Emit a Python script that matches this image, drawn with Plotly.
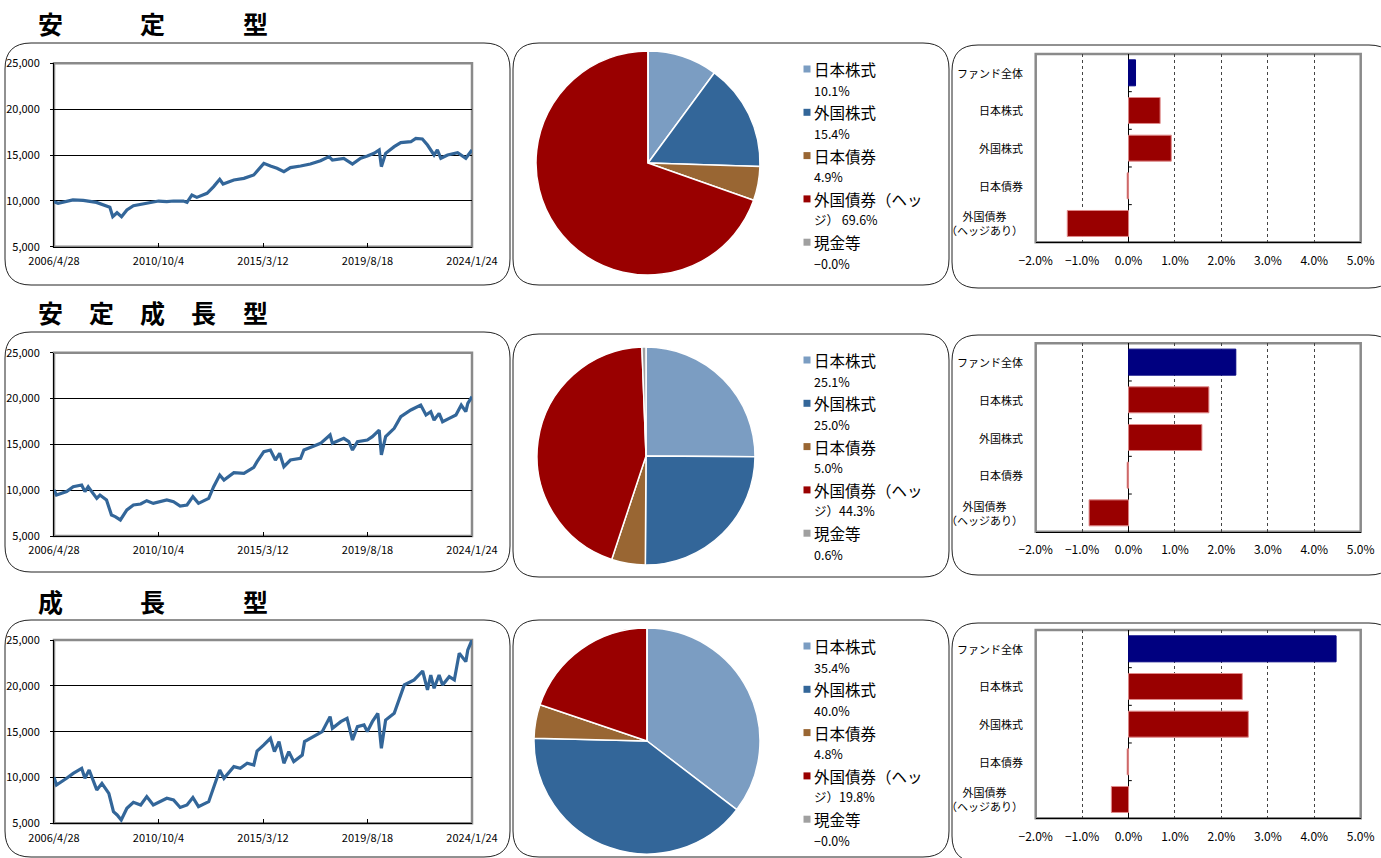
import plotly.graph_objects as go

W, H = 1381, 858
FONT = "Noto Sans CJK JP, Noto Sans, sans-serif"


def X(p):
    return p / W


def Y(p):
    return 1 - p / H


def sfx(n):
    return "" if n == 1 else str(n)


# ---------------- data ----------------
row_titles = [["安", "", "定", "", "型"], ["安", "定", "成", "長", "型"], ["成", "", "長", "", "型"]]

tick_dates = ["2006-04-28", "2010-10-04", "2015-03-12", "2019-08-18", "2024-01-24"]
tick_date_labels = ["2006/4/28", "2010/10/4", "2015/3/12", "2019/8/18", "2024/1/24"]
nav_ticks = [5000, 10000, 15000, 20000, 25000]
nav_tick_labels = ["5,000", "10,000", "15,000", "20,000", "25,000"]

dates_stable = ["2006-04-28", "2006-07-01", "2007-02-15", "2007-07-25", "2008-02-15", "2008-04-15",
                "2008-07-20", "2008-09-10", "2008-10-25", "2008-12-30", "2009-03-10", "2009-06-01",
                "2009-09-10", "2010-02-15", "2010-06-01", "2010-10-05", "2011-02-10", "2011-05-25",
                "2011-10-25", "2011-12-20", "2012-03-05", "2012-05-20", "2012-10-25", "2013-02-05",
                "2013-05-10", "2013-07-01", "2013-12-15", "2014-05-20", "2014-10-20", "2015-03-25",
                "2015-07-05", "2015-10-15", "2016-01-30", "2016-05-10", "2016-10-15", "2017-03-15",
                "2017-08-20", "2017-12-30", "2018-02-20", "2018-08-15", "2018-12-28", "2019-05-05",
                "2019-08-15", "2019-11-28", "2020-02-15", "2020-03-20", "2020-05-25", "2020-10-05",
                "2021-01-15", "2021-06-20", "2021-09-05", "2021-12-15", "2022-03-05", "2022-06-15",
                "2022-08-05", "2022-09-28", "2023-01-10", "2023-06-15", "2023-10-20", "2024-01-24"]
nav_stable = [9910, 9730, 10100, 10050, 9830, 9700,
              9470, 9300, 8270, 8700, 8270, 9000,
              9470, 9650, 9830, 9980, 9910, 9980,
              9980, 9830, 10640, 10380, 10820, 11550,
              12350, 11840, 12270, 12450, 12820, 14090,
              13800, 13550, 13180, 13620, 13800, 14020,
              14380, 14820, 14450, 14640, 14020, 14640,
              14890, 15180, 15550, 13730, 15180, 15910,
              16350, 16450, 16820, 16750, 16090, 15000,
              15550, 14640, 15000, 15250, 14640, 15550]

dates_balanced = ["2006-04-28", "2006-06-05", "2006-11-10", "2007-02-20", "2007-07-01", "2007-08-20",
                  "2007-10-10", "2008-02-20", "2008-04-10", "2008-07-20", "2008-10-05", "2008-12-01",
                  "2009-02-20", "2009-06-01", "2009-09-10", "2010-01-01", "2010-04-05", "2010-07-15",
                  "2011-02-10", "2011-05-25", "2011-09-05", "2011-12-20", "2012-03-20", "2012-06-15",
                  "2012-11-20", "2013-02-05", "2013-05-10", "2013-07-15", "2013-12-15", "2014-05-20",
                  "2014-10-20", "2014-12-10", "2015-03-25", "2015-07-05", "2015-09-20", "2015-11-25",
                  "2016-01-30", "2016-05-10", "2016-10-15", "2016-12-05", "2017-05-10", "2017-08-20",
                  "2018-01-15", "2018-02-20", "2018-08-15", "2018-11-01", "2018-12-28", "2019-03-15",
                  "2019-08-15", "2019-11-01", "2020-02-15", "2020-03-20", "2020-05-25", "2020-10-05",
                  "2021-01-15", "2021-06-20", "2021-11-20", "2022-02-10", "2022-04-25", "2022-06-15",
                  "2022-09-01", "2022-10-25", "2023-02-05", "2023-05-20", "2023-08-10", "2023-10-20",
                  "2023-11-20", "2024-01-24"]
nav_balanced = [10020, 9470, 9840, 10380, 10560, 9840,
                10380, 9110, 9470, 8930, 7290, 7110,
                6750, 7840, 8380, 8490, 8850, 8560,
                8930, 8750, 8270, 8380, 9290, 8560,
                9110, 10380, 11650, 11110, 11910, 11840,
                12490, 13110, 14200, 14380, 13290, 14020,
                12560, 13290, 13470, 14380, 14820, 15110,
                16020, 15110, 15650, 15290, 14380, 15290,
                15470, 15840, 16560, 13840, 15840, 16750,
                18020, 18750, 19290, 18200, 18560, 17650,
                18380, 17470, 17840, 18200, 19290, 18560,
                19470, 20200]

dates_growth = ["2006-04-28", "2006-06-05", "2006-11-10", "2007-02-20", "2007-07-01", "2007-08-20",
                "2007-10-25", "2008-02-20", "2008-05-10", "2008-08-25", "2008-11-05", "2009-01-01",
                "2009-03-05", "2009-06-01", "2009-09-10", "2010-01-01", "2010-04-05", "2010-07-15",
                "2011-02-10", "2011-05-25", "2011-09-05", "2011-12-20", "2012-03-20", "2012-06-15",
                "2012-11-20", "2013-02-05", "2013-05-10", "2013-07-15", "2013-12-15", "2014-03-25",
                "2014-07-10", "2014-10-20", "2014-12-10", "2015-03-25", "2015-07-05", "2015-09-05",
                "2015-11-15", "2016-01-30", "2016-04-15", "2016-07-01", "2016-11-10", "2016-12-15",
                "2017-05-10", "2017-09-15", "2018-01-15", "2018-02-20", "2018-06-30", "2018-10-05",
                "2018-12-28", "2019-03-15", "2019-06-25", "2019-08-15", "2019-11-01", "2020-01-25",
                "2020-03-20", "2020-05-25", "2020-10-05", "2021-01-15", "2021-03-10", "2021-08-10",
                "2021-12-20", "2022-03-05", "2022-04-25", "2022-06-15", "2022-09-01", "2022-10-25",
                "2023-02-05", "2023-04-25", "2023-07-10", "2023-10-20", "2023-11-20", "2024-01-24"]
nav_growth = [10020, 9180, 9910, 10450, 11000, 9910,
              10820, 8640, 9360, 8270, 6270, 5910,
              5360, 6640, 7290, 7000, 7910, 7000,
              7730, 7550, 6730, 7000, 7820, 6820,
              7360, 8820, 10820, 9910, 11180, 11000,
              11550, 11360, 12890, 13550, 14270, 12820,
              13910, 11550, 12820, 11730, 12450, 13910,
              14450, 15000, 16640, 15360, 16090, 16450,
              14090, 15550, 15730, 15000, 16090, 17000,
              13180, 16270, 17000, 19000, 20090, 20640,
              21620, 19550, 21180, 19730, 21180, 20090,
              21000, 20640, 23550, 22640, 23910, 25000]

asset_names = ["日本株式", "外国株式", "日本債券", "外国債券（ヘッジ）", "現金等"]
asset_colors = ["#7b9dc2", "#336699", "#996633", "#990000", "#a0a0a0"]
weights_stable = [10.1, 15.4, 4.9, 69.6, -0.0]
weights_balanced = [25.1, 25.0, 5.0, 44.3, 0.6]
weights_growth = [35.4, 40.0, 4.8, 19.8, -0.0]

contrib_cats = ["ファンド全体", "日本株式", "外国株式", "日本債券", "外国債券<br>（ヘッジあり）"]
contrib_stable = [0.15, 0.68, 0.92, -0.03, -1.32]
contrib_balanced = [2.31, 1.73, 1.58, -0.03, -0.85]
contrib_growth = [4.47, 2.45, 2.58, -0.03, -0.37]
contrib_ticks = [-2, -1, 0, 1, 2, 3, 4, 5]
contrib_tick_labels = ["−2.0%", "−1.0%", "0.0%", "1.0%", "2.0%", "3.0%", "4.0%", "5.0%"]

# ---------------- layout geometry (pixels) ----------------
rows = [
    dict(title_y=23, line=(63.3, 246.7), pie=(648, 163, 112), leg_y=69, bar=(54, 242.3),
         boxes=[(5, 43, 510, 285), (513, 43, 949, 285), (952, 45, 1395, 288)],
         dates=dates_stable, nav=nav_stable, w=weights_stable, c=contrib_stable, sep=" "),
    dict(title_y=312, line=(352.7, 536), pie=(646, 456, 109), leg_y=360, bar=(343.3, 531.7),
         boxes=[(5, 332, 510, 572), (513, 334, 949, 577), (952, 335, 1395, 575)],
         dates=dates_balanced, nav=nav_balanced, w=weights_balanced, c=contrib_balanced, sep=""),
    dict(title_y=601, line=(640, 823.3), pie=(647, 741, 113), leg_y=646, bar=(630, 818.3),
         boxes=[(5, 620, 510, 857), (513, 620, 949, 857), (952, 623, 1395, 862)],
         dates=dates_growth, nav=nav_growth, w=weights_growth, c=contrib_growth, sep=""),
]


def rpath(x0, y0, x1, y1, r):
    return (f"M {X(x0 + r)},{Y(y0)} L {X(x1 - r)},{Y(y0)} Q {X(x1)},{Y(y0)} {X(x1)},{Y(y0 + r)} "
            f"L {X(x1)},{Y(y1 - r)} Q {X(x1)},{Y(y1)} {X(x1 - r)},{Y(y1)} "
            f"L {X(x0 + r)},{Y(y1)} Q {X(x0)},{Y(y1)} {X(x0)},{Y(y1 - r)} "
            f"L {X(x0)},{Y(y0 + r)} Q {X(x0)},{Y(y0)} {X(x0 + r)},{Y(y0)} Z")


fig = go.Figure()
layout = dict(template="none", width=W, height=H,
              margin=dict(l=0, r=0, t=0, b=0, pad=0, autoexpand=False),
              paper_bgcolor="white", plot_bgcolor="white", showlegend=False,
              font=dict(family=FONT, color="black"))
shapes = []
annotations = []

for i, row in enumerate(rows):
    # boxes
    for (x0, y0, x1, y1) in row["boxes"]:
        shapes.append(dict(type="path", path=rpath(x0, y0, x1, y1, 26), xref="paper", yref="paper",
                           line=dict(color="#222222", width=1), fillcolor="rgba(0,0,0,0)", layer="below"))
    # title characters
    for k, ch in enumerate(row_titles[i]):
        if ch:
            annotations.append(dict(text=f"<b>{ch}</b>", x=X(50 + k * 51.3), y=Y(row["title_y"]),
                                    xref="paper", yref="paper", showarrow=False, xanchor="center",
                                    yanchor="middle", font=dict(size=25, family=FONT, color="black")))

    # ---- line chart ----
    n = sfx(i + 1)
    top, bot = row["line"]
    fig.add_trace(go.Scatter(x=row["dates"], y=row["nav"], mode="lines",
                             line=dict(color="#336699", width=3.2), xaxis=f"x{n}", yaxis=f"y{n}",
                             hoverinfo="skip"))
    layout[f"xaxis{n}"] = dict(domain=[X(54), X(472)], anchor=f"y{n}", type="date", automargin=False,
                               range=[tick_dates[0], tick_dates[-1]], tickvals=tick_dates,
                               ticktext=tick_date_labels, ticks="inside", ticklen=4, tickcolor="black",
                               showline=True, linecolor="black", linewidth=1, showgrid=False,
                               zeroline=False, tickfont=dict(size=11, family=FONT, color="black"),
                               ticklabelstandoff=4)
    layout[f"yaxis{n}"] = dict(domain=[Y(bot), Y(top)], anchor=f"x{n}", range=[5000, 25000],
                               automargin=False,
                               tickvals=nav_ticks, ticktext=nav_tick_labels, ticks="outside", ticklen=3,
                               tickcolor="black", showline=True, linecolor="black", linewidth=1,
                               showgrid=True, gridcolor="black", gridwidth=1, zeroline=False,
                               tickfont=dict(size=11, family=FONT, color="black"), ticklabelstandoff=8)
    shapes.append(dict(type="rect", xref=f"x{n} domain", yref=f"y{n} domain", x0=0, x1=1, y0=0, y1=1,
                       line=dict(color="#8a8a8a", width=2.5), layer="below"))

    # ---- pie ----
    cx, cy, r = row["pie"]
    fig.add_trace(go.Pie(values=[max(v, 0) for v in row["w"]], labels=asset_names, sort=False,
                         direction="clockwise", rotation=0, textinfo="none", hoverinfo="skip",
                         marker=dict(colors=asset_colors, line=dict(color="white", width=1.5)),
                         domain=dict(x=[X(cx - r), X(cx + r)], y=[Y(cy + r), Y(cy - r)])))
    for k, (name, col, v) in enumerate(zip(asset_names, asset_colors, row["w"])):
        ly = row["leg_y"] + k * 43.3
        pct = f"{v:.1f}%".replace("-", "−")
        if k == 3:
            first, second = "外国債券（ヘッ", "ジ）" + row["sep"] + pct
        else:
            first, second = name, pct
        shapes.append(dict(type="rect", xref="paper", yref="paper", x0=X(803.5), x1=X(810.5),
                           y0=Y(ly + 3.5), y1=Y(ly - 3.5), fillcolor=col, line=dict(width=0)))
        annotations.append(dict(text=first, x=X(812), y=Y(ly), xref="paper", yref="paper",
                                showarrow=False, xanchor="left", yanchor="middle",
                                font=dict(size=15.5, family=FONT, color="black")))
        annotations.append(dict(text=second, x=X(812), y=Y(ly + 21), xref="paper", yref="paper",
                                showarrow=False, xanchor="left", yanchor="middle",
                                font=dict(size=12.5, family=FONT, color="black")))

    # ---- contribution bar chart ----
    m = sfx(i + 4)
    btop, bbot = row["bar"]
    colors = ["#000080"] + ["#990000"] * 4
    edges = ["#000080"] + ["#e08a8a"] * 4
    fig.add_trace(go.Bar(y=contrib_cats, x=row["c"], orientation="h", xaxis=f"x{m}", yaxis=f"y{m}",
                         marker=dict(color=colors, line=dict(color=edges, width=1)), hoverinfo="skip",
                         width=0.69))
    layout[f"xaxis{m}"] = dict(domain=[X(1035.7), X(1360.7)], anchor=f"y{m}", range=[-2, 5],
                               automargin=False,
                               tickvals=contrib_ticks, ticktext=contrib_tick_labels, ticks="",
                               showline=True, linecolor="black", linewidth=1, showgrid=True,
                               gridcolor="#444444", gridwidth=1, griddash="dot", zeroline=True,
                               zerolinecolor="black", zerolinewidth=1,
                               tickfont=dict(size=12, family=FONT, color="black"), ticklabelstandoff=7)
    layout[f"yaxis{m}"] = dict(domain=[Y(bbot), Y(btop)], anchor=f"x{m}", type="category",
                               automargin=False,
                               categoryarray=contrib_cats, categoryorder="array", autorange="reversed",
                               showticklabels=False, showgrid=False, zeroline=False, showline=False,
                               ticks="")
    shapes.append(dict(type="rect", xref=f"x{m} domain", yref=f"y{m} domain", x0=0, x1=1, y0=0, y1=1,
                       line=dict(color="#8a8a8a", width=2.5), layer="below"))
    for b in [0.5, 1.5, 2.5, 3.5]:
        shapes.append(dict(type="line", xref=f"x{m}", yref=f"y{m}", x0=0, x1=0.07, y0=b, y1=b,
                           line=dict(color="black", width=1)))
    for cat in contrib_cats:
        annotations.append(dict(text=cat, x=X(1025), y=cat, xref="paper", yref=f"y{m}",
                                showarrow=False, xanchor="right", yanchor="middle", align="center",
                                font=dict(size=11, family=FONT, color="black")))

layout["shapes"] = shapes
layout["annotations"] = annotations
layout["bargap"] = 0.31
fig.update_layout(**layout)
fig.write_html("out.html", config={"displayModeBar": False},
               post_script="document.body.style.margin='0';document.body.style.overflow='hidden';")
